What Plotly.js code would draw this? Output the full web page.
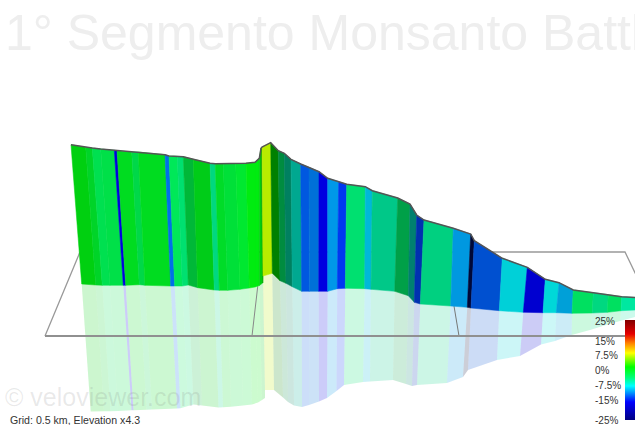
<!DOCTYPE html>
<html>
<head>
<meta charset="utf-8">
<script src="https://cdn.plot.ly/plotly-3.0.1.min.js"></script>
<style>html,body{margin:0;padding:0;background:#fff;overflow:hidden}#c{width:635px;height:425px}</style>
</head>
<body>
<div id="c"></div>
<script>
// Projected wall: one entry per segment boundary.
var topX  = [71,85.7,92.3,100.7,114.3,117,131.7,138.3,165,169,177.3,183.3,193.3,210,215.3,223.3,235.7,246,255,259.3,261,262,270.7,278.3,284.3,291,300.7,309,319,327.7,338.7,346.7,365.3,372.3,397.7,410,416.7,424,453.3,470.7,474.3,502.3,527.3,545.3,559,573.3,593.3,608.3,621.7,635];
var topY  = [144.7,147.3,148,149,150.3,150.7,152,152,154.7,156,156.3,156.7,159.3,163.3,163.7,163.7,163.7,163.3,162.3,158.3,148.3,147,142.7,150.7,153.3,159.3,164,167.3,171.7,178.3,181.7,184.3,186.7,190.7,198,204,215,220,228.3,234,240.7,258.3,267.3,279.3,282.7,290,292.7,294.7,296.7,297.5];
var baseX = [81.7,95.7,102.3,110,123.3,125.7,139.3,145,170.7,174.7,182.3,188.3,197.7,214.3,219.3,227.7,240,249.3,255,259.3,262.7,263,272.3,280,286,292.3,301.7,309.3,318.7,327.7,337.3,345.3,364.7,371,394.7,408.3,414.3,420.3,450.7,467.3,471,499.3,523.3,543,556.3,572,592.3,607.3,621,635];
var baseY = [284,285,285.3,285.3,285.3,285.3,284.7,285.3,286,286,286,285,287.7,290,290.3,290.3,289.3,288,287,285.5,283,276,273.3,280.7,283.3,286.7,291.3,291.3,291.3,291.3,288.7,288.3,288.7,289.3,291.3,295.7,302.3,304,306,307.3,308,310.7,312.3,312.7,312.7,313.3,313,312.3,310.7,310];
var footX = [90.7,104,110.5,118,131.5,133.5,146.5,152,177,180.5,188,193.5,202,218.5,223,231,243,252,258,262,265,265,274,283,288,294,302,309,319,327,336.5,344,363,370,393,406,412,417,447,463,468,497,520,541,555,571.7,590,606,620,635];
var footY = [411.5,411.3,411.2,411,410.3,410.2,409.8,409.5,408.5,408.2,406,404.5,405.5,407.5,407.3,406.8,405.5,404.5,402.5,400,398,390,390,397.5,402,405.5,407,405,401.5,398,391,385,382,381.5,380,384,386,385,383,377,370,360,356,344.5,341,335,330,325,321,317];
var segmentColors = ['#00d010','#00d428','#00e050','#00e048','#0000e0','#00dc20','#00d848','#00dc20','#0070e8','#00e858','#00e070','#00b838','#00cc18','#00d880','#00dc28','#00e038','#00e830','#00ec10','#00ec10','#00cc10','#00a000','#b8ec00','#008000','#008c40','#008060','#00a890','#0058e0','#0070d8','#0000e0','#0098e8','#0038f0','#00e070','#00b8d8','#00c888','#00a048','#008070','#0030b0','#00d080','#0098e0','#000838','#0050d0','#00d0d8','#0000d0','#00d8d8','#00a0d8','#00e060','#00d880','#00e060','#00e8a0'];

// Ground plane grid
var gridOutlineX = [45,80,625,640];
var gridOutlineY = [336,252,252,283];
var gridFrontX = [45,635];
var gridFrontY = [336,336];
var gridCrossA = {x:[258,252], y:[284,336]};
var gridCrossB = {x:[454,459], y:[306,336]};

// Gradient scale
var gradeTicks = [25,15,7.5,0,-7.5,-15,-25];
var gradeLabels = ['25%','15%','7.5%','0%','-7.5%','-15%','-25%'];
var gradeLabelY = [322.5,342,356,371,386,401,421.5];
var gradeStops = [[0,'#000080'],[0.18,'#0000ff'],[0.26,'#0080ff'],[0.34,'#00ffff'],[0.42,'#00ff80'],[0.53,'#00ff00'],[0.67,'#ffff00'],[0.77,'#ff8000'],[0.86,'#e60000'],[1,'#800000']];

function hexA(h,a){var n=parseInt(h.slice(1),16);return 'rgba('+(n>>16)+','+((n>>8)&255)+','+(n&255)+','+a+')';}
var traces = [];
function poly(xs,ys,color,lineCol){
  traces.push({type:'scatter',mode:'lines',x:xs,y:ys,fill:'toself',fillcolor:color,
    line:{width:lineCol?0.6:0,color:lineCol||color},hoverinfo:'skip',showlegend:false});
}
function line(xs,ys,w,c){
  traces.push({type:'scatter',mode:'lines',x:xs,y:ys,line:{width:w,color:c},hoverinfo:'skip',showlegend:false});
}
// back of plane
line(gridOutlineX,gridOutlineY,1.3,'#999999');
// reflection
segmentColors.forEach(function(c,i){
  poly([baseX[i],baseX[i+1],footX[i+1],footX[i],baseX[i]],[baseY[i],baseY[i+1],footY[i+1],footY[i],baseY[i]],hexA(c,0.2));
});
line(gridCrossA.x,gridCrossA.y,1,'#888888');
line(gridCrossB.x,gridCrossB.y,1,'#777777');
line(gridFrontX,gridFrontY,2,'#909090');
// wall
segmentColors.forEach(function(c,i){
  poly([topX[i],topX[i+1],baseX[i+1],baseX[i],topX[i]],[topY[i],topY[i+1],baseY[i+1],baseY[i],topY[i]],c,hexA(c,0.9));
});
line(topX,topY,1.5,'#555555');
// gradient labels
traces.push({type:'scatter',mode:'text',x:gradeLabels.map(function(){return 595;}),y:gradeLabelY,text:gradeLabels,
  textposition:'middle right',textfont:{family:'Liberation Sans, Arial, sans-serif',size:10,color:'#333333'},hoverinfo:'skip',showlegend:false});
// colour scale
traces.push({type:'scatter',mode:'markers',x:[700],y:[500],cliponaxis:true,
  marker:{size:1,opacity:0,color:[0],cmin:-25,cmax:25,colorscale:gradeStops,showscale:true,
    colorbar:{x:625/635,xanchor:'left',xpad:0,ypad:0,y:1-320/425,yanchor:'top',len:100,lenmode:'pixels',thickness:10,thicknessmode:'pixels',
      outlinewidth:0,showticklabels:false,ticks:'',tickvals:gradeTicks,title:{text:''},bgcolor:'rgba(0,0,0,0)',borderwidth:0}},
  hoverinfo:'skip',showlegend:false});

var layout = {
  width:635,height:425,margin:{l:0,r:0,t:0,b:0,pad:0,autoexpand:false},
  paper_bgcolor:'#ffffff',plot_bgcolor:'#ffffff',showlegend:false,
  xaxis:{range:[0,635],visible:false,fixedrange:true},
  yaxis:{range:[425,0],visible:false,fixedrange:true},
  title:{text:'1° Segmento Monsanto Battle',x:5/635,xref:'paper',xanchor:'left',y:1-50/425,yref:'paper',yanchor:'bottom',
    font:{family:'Liberation Sans, Arial, sans-serif',size:50,color:'#eeeeee'},pad:{t:0,b:0,l:0,r:0}},
  annotations:[
    {text:'© veloviewer.com',x:3,y:396.5,xref:'x',yref:'y',xanchor:'left',yanchor:'middle',showarrow:false,
      font:{family:'Liberation Sans, Arial, sans-serif',size:25,color:'rgba(120,120,120,0.16)'}},
    {text:'Grid: 0.5 km, Elevation x4.3',x:8,y:420,xref:'x',yref:'y',xanchor:'left',yanchor:'middle',showarrow:false,
      font:{family:'Liberation Sans, Arial, sans-serif',size:10.6,color:'#333333'}}
  ]
};
Plotly.newPlot('c',traces,layout,{displayModeBar:false,staticPlot:true});
</script>
</body>
</html>
